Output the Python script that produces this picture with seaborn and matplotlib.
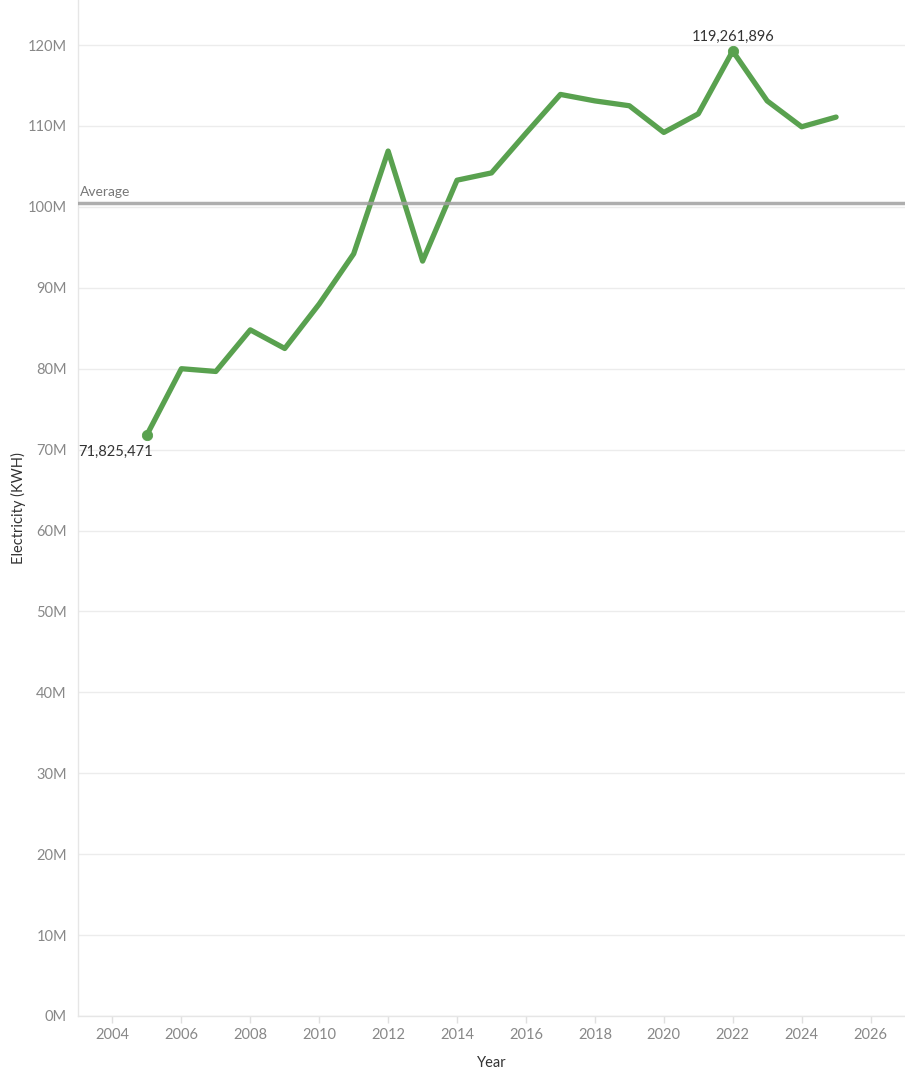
import seaborn as sns
import matplotlib.pyplot as plt
import pandas as pd
from matplotlib.ticker import FuncFormatter

years = list(range(2005, 2026))
kwh = [71825471, 80.0e6, 79.66e6, 84.8e6, 82.5e6, 88.0e6, 94.2e6, 106.9e6,
       93.3e6, 103.3e6, 104.2e6, 109.1e6, 113.9e6, 113.1e6, 112.5e6,
       109.2e6, 111.5e6, 119261896, 113.1e6, 109.9e6, 111.1e6]
x_ticks = list(range(2004, 2027, 2))
y_ticks = [i * 10e6 for i in range(13)]

df = pd.DataFrame({"Year": years, "Electricity (KWH)": kwh})
avg = df["Electricity (KWH)"].mean()

sns.set_style("white")
plt.rcParams["font.family"] = ["Lato", "DejaVu Sans"]

green = "#59a14f"
fig = plt.figure(figsize=(9.05, 10.79), dpi=100)
ax = fig.add_axes([0.0862, 0.0584, 0.9138, 0.9416])

sns.lineplot(data=df, x="Year", y="Electricity (KWH)", ax=ax,
             color=green, linewidth=3.8, zorder=3)

# markers on first point and max point
i_max = df["Electricity (KWH)"].idxmax()
marks = df.loc[[0, i_max]]
sns.scatterplot(data=marks, x="Year", y="Electricity (KWH)", ax=ax,
                color=green, s=55, edgecolor=green, zorder=4, legend=False)

ax.axhline(avg, color="#a0a0a0", linewidth=2.5, alpha=0.85, zorder=5)
ax.text(2003.05, avg + 0.6e6, "Average", fontsize=10, color="#777777",
        ha="left", va="bottom")

ax.annotate(f"{kwh[0]:,.0f}", (years[0], kwh[0]), xytext=(2003.0, kwh[0] - 2.1e6),
            fontsize=10.5, color="#333333", ha="left", va="center")
ax.annotate(f"{kwh[i_max]:,.0f}", (years[i_max], kwh[i_max]),
            xytext=(years[i_max], kwh[i_max] + 0.9e6),
            fontsize=10.5, color="#333333", ha="center", va="bottom")

ax.set_xlim(2003, 2027)
ax.set_ylim(0, 125.57e6)
ax.set_xticks(x_ticks)
ax.set_yticks(y_ticks)
ax.yaxis.set_major_formatter(FuncFormatter(lambda v, p: f"{v/1e6:.0f}M"))

ax.grid(axis="y", color="#ececec", linewidth=1)
ax.grid(axis="x", visible=False)
for s in ["top", "right"]:
    ax.spines[s].set_visible(False)
for s in ["left", "bottom"]:
    ax.spines[s].set_color("#e6e6e6")
    ax.spines[s].set_linewidth(1)

ax.tick_params(axis="x", colors="#e0e0e0", labelcolor="#888888", labelsize=10.5,
               length=5, width=1, pad=4, bottom=True)
ax.tick_params(axis="y", colors="#e0e0e0", labelcolor="#888888", labelsize=10.5,
               length=0, pad=8, left=False)

ax.set_xlabel("Year", fontsize=10.5, color="#333333", labelpad=10)
ax.set_ylabel("Electricity (KWH)", fontsize=10.5, color="#333333")
ax.yaxis.set_label_coords(-0.063, 0.5)

fig.savefig("out.png", dpi=100)
